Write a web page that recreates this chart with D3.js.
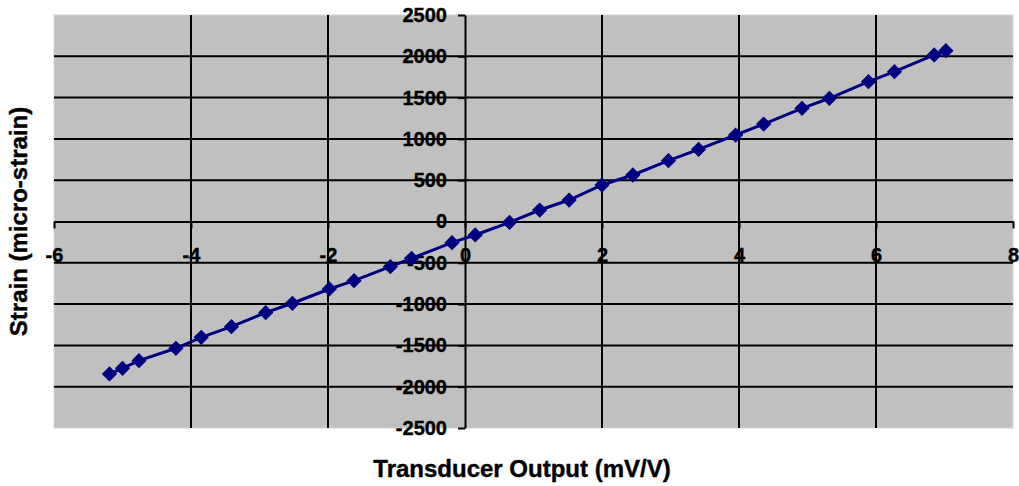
<!DOCTYPE html>
<html>
<head>
	<meta charset="utf-8">
	<title>Strain vs Transducer Output</title>
	<style type="text/css">
		body {
			margin: 0;
			background: #fff;
		}
		.chart text {
			font-family: "Liberation Sans", Arial, sans-serif;
			font-weight: bold;
			fill: #000;
			stroke: #000;
			stroke-width: 0.4px;
		}
	</style>
</head>
<body>
	<svg class="chart" width="1019" height="486"></svg>

	<script src="https://cdnjs.cloudflare.com/ajax/libs/d3/7.8.5/d3.min.js"></script>
	<script type="text/javascript">

		// data
		var transducerOutput = [-5.19, -5.00, -4.76, -4.22, -3.85, -3.41, -2.91, -2.52, -1.98, -1.62,
			-1.09, -0.78, -0.19, 0.15, 0.65, 1.09, 1.52, 2.00, 2.45, 2.97,
			3.41, 3.95, 4.36, 4.92, 5.32, 5.89, 6.27, 6.85, 7.02];
		var strain = [-1846, -1777, -1685, -1535, -1402, -1273, -1104, -990, -817, -716,
			-547, -446, -256, -163, -10, 139, 260, 442, 563, 736,
			874, 1047, 1180, 1370, 1492, 1693, 1814, 2016, 2068];
		var xTicks = [-6, -4, -2, 0, 2, 4, 6, 8];
		var yTicks = [-2500, -2000, -1500, -1000, -500, 0, 500, 1000, 1500, 2000, 2500];
		var xTitle = 'Transducer Output (mV/V)';
		var yTitle = 'Strain (micro-strain)';

		var svg = d3.select('.chart');
		var plot = { left: 54, right: 1013, top: 15, bottom: 428 };

		var x = d3.scaleLinear().domain([-6, 8]).range([plot.left, plot.right]);
		var y = d3.scaleLinear().domain([-2500, 2500]).range([plot.bottom, plot.top]);

		// plain labels: no thousands separator, ascii hyphen for minus
		var plain = function(d) { return String(d); };

		// plot area background
		svg.append('rect')
			.attr('x', plot.left)
			.attr('y', plot.top)
			.attr('width', plot.right - plot.left)
			.attr('height', plot.bottom - plot.top)
			.attr('fill', '#c0c0c0')
			.attr('stroke', '#d4d4d4')
			.attr('stroke-width', 1);

		// gridlines (not on plot edges)
		svg.append('g').selectAll('line')
			.data(xTicks.filter(function(d) { return d > -6 && d < 8 && d !== 0; }))
			.enter().append('line')
				.attr('x1', function(d) { return x(d); })
				.attr('x2', function(d) { return x(d); })
				.attr('y1', plot.top)
				.attr('y2', plot.bottom)
				.attr('stroke', '#000')
				.attr('stroke-width', 2);

		svg.append('g').selectAll('line')
			.data(yTicks.filter(function(d) { return d > -2500 && d < 2500 && d !== 0; }))
			.enter().append('line')
				.attr('x1', plot.left)
				.attr('x2', plot.right)
				.attr('y1', function(d) { return y(d); })
				.attr('y2', function(d) { return y(d); })
				.attr('stroke', '#000')
				.attr('stroke-width', 2);

		// axes crossing at zero
		var xAxis = d3.axisBottom(x).tickValues(xTicks).tickFormat(plain)
			.tickSize(7).tickSizeOuter(0).tickPadding(19);
		var gx = svg.append('g')
			.attr('transform', 'translate(0,' + y(0) + ')')
			.call(xAxis);

		var yAxis = d3.axisLeft(y).tickValues(yTicks).tickFormat(plain)
			.tickSize(7).tickSizeOuter(0).tickPadding(11);
		var gy = svg.append('g')
			.attr('transform', 'translate(' + x(0) + ',0)')
			.call(yAxis);

		[gx, gy].forEach(function(g) {
			g.select('.domain').attr('stroke', '#000').attr('stroke-width', 2);
			g.selectAll('.tick line').attr('stroke', '#000').attr('stroke-width', 2);
			g.selectAll('.tick text')
				.attr('font-size', 20)
				.attr('font-family', '"Liberation Sans", Arial, sans-serif')
				.attr('font-weight', 'bold')
				.attr('fill', '#000');
		});

		// axis titles
		svg.append('text')
			.attr('x', 522)
			.attr('y', 477)
			.attr('text-anchor', 'middle')
			.attr('font-size', 24)
			.text(xTitle);

		svg.append('text')
			.attr('transform', 'translate(27,' + y(0) + ') rotate(-90)')
			.attr('text-anchor', 'middle')
			.attr('font-size', 24)
			.text(yTitle);

		// series
		var points = transducerOutput.map(function(d, i) { return [d, strain[i]]; });

		svg.append('path')
			.datum(points)
			.attr('fill', 'none')
			.attr('stroke', '#000080')
			.attr('stroke-width', 3)
			.attr('d', d3.line()
				.x(function(d) { return x(d[0]); })
				.y(function(d) { return y(d[1]); }));

		var diamond = d3.symbol().type(d3.symbolSquare).size(96);
		svg.append('g').selectAll('path')
			.data(points)
			.enter().append('path')
				.attr('d', diamond)
				.attr('transform', function(d) {
					return 'translate(' + x(d[0]) + ',' + y(d[1]) + ') rotate(45)';
				})
				.attr('fill', '#000080')
				.attr('stroke', '#000080')
				.attr('stroke-width', 1);

	</script>
</body>
</html>
